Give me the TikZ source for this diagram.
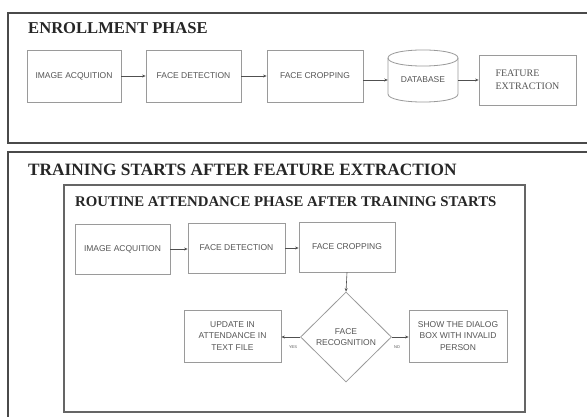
\documentclass[tikz,border=0pt]{standalone}
\usepackage{fontspec}
\setmainfont{Liberation Serif}
\newfontfamily\boxfont{Liberation Sans}
\usetikzlibrary{arrows.meta,shapes.geometric}
\definecolor{framecol}{HTML}{4A4A4A}
\definecolor{boxline}{HTML}{9A9A9A}
\definecolor{boxtext}{HTML}{555555}
\definecolor{conn}{HTML}{505050}
\begin{document}
\begin{tikzpicture}[x=1pt,y=-1pt,
  frame/.style={draw=framecol, line width=2pt},
  innerframe/.style={draw=framecol!85, line width=2pt},
  ttl/.style={anchor=west, inner sep=0pt, text=black!85},
  stepbox/.style={draw=boxline, line width=0.8pt, rectangle, inner sep=2pt,
    text=boxtext, font=\boxfont\fontsize{8.5}{11.5}\selectfont, align=center},
  decision/.style={draw=boxline, line width=0.8pt, diamond, aspect=1, inner sep=0pt,
    text=boxtext, font=\boxfont\fontsize{8.5}{11.5}\selectfont, align=center},
  arr/.style={draw=conn, line width=0.6pt, -{Stealth[length=3.5pt,width=3pt]}},
  lbl/.style={font=\boxfont\fontsize{4}{4}\selectfont, text=boxtext, inner sep=0pt}]
\useasboundingbox (0,0) rectangle (587,417);
\fill[white] (0,0) rectangle (587,417);

% ---------- Enrollment phase ----------
\draw[frame] (600,13) -- (8,13) -- (8,143) -- (600,143);
\node[ttl, font=\bfseries\fontsize{16.6}{18}\selectfont] (t1) at (28,28) {ENROLLMENT PHASE};

\node[stepbox, minimum width=94pt, minimum height=52pt] (ia1) at (74,76) {IMAGE ACQUITION};
\node[stepbox, minimum width=95pt, minimum height=52pt] (fd1) at (193.5,76) {FACE DETECTION};
\node[stepbox, minimum width=96pt, minimum height=52pt] (fc1) at (315,76) {FACE CROPPING};
\node[text=boxtext, font=\boxfont\fontsize{8.5}{10}\selectfont, minimum width=70pt, minimum height=44pt, inner sep=0pt] (db) at (423,80) {DATABASE};
\draw[draw=boxline, line width=0.8pt]
  (388,58) .. controls (388,47.3) and (458,47.3) .. (458,58)
           .. controls (458,68.7) and (388,68.7) .. (388,58);
\draw[draw=boxline, line width=0.8pt]
  (388,58) -- (388,94) .. controls (388,104.7) and (458,104.7) .. (458,94) -- (458,58);
\node[stepbox, minimum width=97pt, minimum height=50pt, align=left,
  font=\fontsize{10}{13}\selectfont] (fe1) at (527.5,80) {FEATURE\\EXTRACTION};

\draw[arr] (ia1.east) -- (fd1.west);
\draw[arr] (fd1.east) -- (fc1.west);
\draw[arr] (db.west -| fc1.east) -- (db.west);
\draw[arr] (db.east) -- (fe1.west);

% ---------- Training / routine attendance ----------
\draw[frame] (600,152) -- (8,152) -- (8,430);
\node[ttl, font=\bfseries\fontsize{17.3}{19}\selectfont] (t2) at (28,170) {TRAINING STARTS AFTER FEATURE EXTRACTION};
\draw[innerframe] (64,185) rectangle (525,412);
\node[ttl, font=\bfseries\fontsize{14.8}{16}\selectfont] (t3) at (75,202) {ROUTINE ATTENDANCE PHASE AFTER TRAINING STARTS};

\node[stepbox, minimum width=95pt, minimum height=50pt] (ia2) at (122.5,249) {IMAGE ACQUITION};
\node[stepbox, minimum width=97pt, minimum height=50pt] (fd2) at (236.5,248) {FACE DETECTION};
\node[stepbox, minimum width=96pt, minimum height=50pt] (fc2) at (347,247) {FACE CROPPING};
\node[decision, minimum width=91pt, minimum height=90pt] (fr) at (346,337) {FACE\\RECOGNITION};
\node[stepbox, minimum width=97pt, minimum height=52pt] (up) at (232.5,336) {UPDATE IN\\ATTENDANCE IN\\TEXT FILE};
\node[stepbox, minimum width=98pt, minimum height=52pt] (sh) at (458,336) {SHOW THE DIALOG\\BOX WITH INVALID\\PERSON};

\draw[arr] (ia2.east) -- (ia2.east -| fd2.west);
\draw[arr] (fd2.east) -- (fd2.east -| fc2.west);
\draw[arr] (fc2.south) -- (fr.north);
\draw[arr] (fr.west) -- (fr.west -| up.east);
\draw[arr] (fr.east) -- (fr.east -| sh.west);
\node[lbl] (yes) at (293,347) {YES};
\node[lbl] (no) at (397,347) {NO};
\end{tikzpicture}
\end{document}
